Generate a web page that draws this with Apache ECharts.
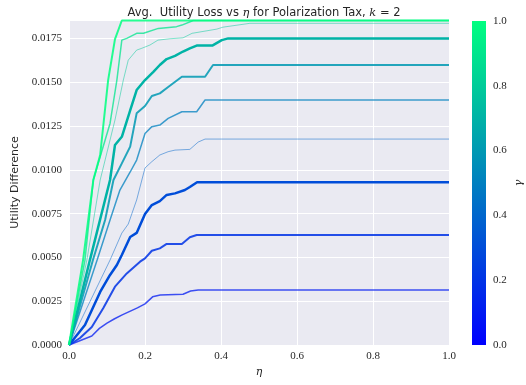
<!DOCTYPE html>
<html><head><meta charset="utf-8">
<script src="https://cdn.jsdelivr.net/npm/echarts@6/dist/echarts.min.js"></script>
<style>html,body{margin:0;padding:0;background:#fff}#c{width:526px;height:385px}</style>
</head><body><div id="c"></div>
<script>
// gamma values of each curve (colour scale)
const gammas = [0.1, 0.2, 0.3, 0.4, 0.5, 0.6, 0.7, 0.8, 0.9, 1.0];
const lineWidths = [1.5, 2, 2.5, 1, 1.5, 2, 2.5, 1, 1.5, 2];
const lineAlphas = [0.75, 0.85, 1, 0.5, 0.75, 0.85, 1, 0.5, 0.75, 0.85];
// eta values and utility differences for each curve
const eta1 = [0, 0.06, 0.08, 0.10, 0.12, 0.14, 0.16, 0.18, 0.20, 0.22, 0.24, 0.30, 0.32, 0.34, 1.0];
const u1   = [0, 0.00051, 0.00095, 0.00125, 0.00150, 0.00172, 0.00192, 0.00212, 0.00235, 0.00275, 0.00285, 0.00290, 0.00308, 0.00314, 0.00314];
const eta2 = [0, 0.029, 0.06, 0.09, 0.121, 0.152, 0.187, 0.2, 0.218, 0.239, 0.257, 0.297, 0.318, 0.336, 1.0];
const u2   = [0, 0.0004, 0.00103, 0.0021, 0.00333, 0.00409, 0.00476, 0.00495, 0.00538, 0.00552, 0.00577, 0.00577, 0.00615, 0.00628, 0.00628];
const eta3 = [0, 0.042, 0.082, 0.108, 0.126, 0.139, 0.161, 0.178, 0.2, 0.218, 0.239, 0.257, 0.279, 0.305, 0.318, 0.337, 1.0];
const u3   = [0, 0.00114, 0.00303, 0.004, 0.00457, 0.00514, 0.00617, 0.0064, 0.00748, 0.00799, 0.00822, 0.00857, 0.00866, 0.00885, 0.00902, 0.00929, 0.00929];
const eta4 = [0, 0.108, 0.139, 0.156, 0.178, 0.2, 0.218, 0.239, 0.261, 0.279, 0.318, 0.34, 0.358, 1.0];
const u4   = [0, 0.00485, 0.00639, 0.00691, 0.00828, 0.01011, 0.01047, 0.01085, 0.01104, 0.01113, 0.01117, 0.01159, 0.01176, 0.01176];
const eta5 = [0, 0.074, 0.108, 0.134, 0.161, 0.178, 0.2, 0.218, 0.239, 0.261, 0.297, 0.336, 0.358, 1.0];
const u5   = [0, 0.00485, 0.00714, 0.00885, 0.00988, 0.01056, 0.01208, 0.01247, 0.01256, 0.01294, 0.01332, 0.01332, 0.01399, 0.01399];
const eta6 = [0, 0.063, 0.095, 0.117, 0.139, 0.161, 0.178, 0.2, 0.218, 0.239, 0.261, 0.297, 0.358, 0.379, 1.0];
const u6   = [0, 0.00485, 0.00714, 0.00942, 0.01037, 0.01133, 0.01323, 0.01365, 0.01422, 0.01437, 0.01473, 0.01532, 0.01532, 0.01599, 0.01599];
const eta7 = [0, 0.055, 0.108, 0.121, 0.139, 0.161, 0.178, 0.2, 0.222, 0.239, 0.257, 0.279, 0.3, 0.318, 0.336, 0.377, 0.402, 0.419, 1.0];
const u7   = [0, 0.00485, 0.00942, 0.01142, 0.01189, 0.0134, 0.01456, 0.01513, 0.0156, 0.01599, 0.01633, 0.01651, 0.01676, 0.01694, 0.0171, 0.0171, 0.01741, 0.01751, 0.01751];
const eta8 = [0, 0.047, 0.082, 0.095, 0.121, 0.143, 0.156, 0.178, 0.191, 0.213, 0.234, 0.266, 0.3, 0.324, 0.389, 0.405, 0.476, 1.0];
const u8   = [0, 0.00485, 0.00942, 0.01056, 0.01285, 0.01513, 0.01627, 0.01684, 0.01694, 0.01713, 0.01741, 0.01749, 0.01754, 0.0178, 0.01804, 0.01815, 0.01837, 0.01837];
const eta9 = [0, 0.042, 0.064, 0.082, 0.108, 0.126, 0.139, 0.152, 0.178, 0.196, 0.235, 0.283, 0.297, 0.327, 1.0];
const u9   = [0, 0.00485, 0.00942, 0.01075, 0.01265, 0.01513, 0.01741, 0.01751, 0.0178, 0.0178, 0.01808, 0.01818, 0.01827, 0.01853, 0.01853];
const eta10 = [0, 0.037, 0.064, 0.082, 0.103, 0.121, 0.139, 1.0];
const u10   = [0, 0.00485, 0.00942, 0.01085, 0.01513, 0.01747, 0.01853, 0.01853];

const etas = [eta1, eta2, eta3, eta4, eta5, eta6, eta7, eta8, eta9, eta10];
const us = [u1, u2, u3, u4, u5, u6, u7, u8, u9, u10];
const yTicks = ['0.0000','0.0025','0.0050','0.0075','0.0100','0.0125','0.0150','0.0175'];
const xTicks = ['0.0','0.2','0.4','0.6','0.8','1.0'];
const cbTicks = ['0.0','0.2','0.4','0.6','0.8','1.0'];

function winter(g) {
  return 'rgb(0,' + Math.round(255 * g) + ',' + Math.round(255 * (1 - 0.5 * g)) + ')';
}

const series = gammas.map((g, i) => ({
  type: 'line',
  xAxisIndex: 0, yAxisIndex: 0,
  data: etas[i].map((x, j) => [x, us[i][j]]),
  showSymbol: false, symbol: 'none', clip: true,
  lineStyle: { color: winter(g), width: lineWidths[i], opacity: lineAlphas[i] },
  z: 3
}));
series.push({
  type: 'bar', xAxisIndex: 1, yAxisIndex: 1,
  data: [1], barWidth: '100%',
  itemStyle: { color: new echarts.graphic.LinearGradient(0, 1, 0, 0, [
    { offset: 0, color: winter(0) }, { offset: 1, color: winter(1) }]) }
});

const txt = '#262626';
const chart = echarts.init(document.getElementById('c'), null, { renderer: 'canvas' });
chart.setOption({
  animation: false,
  backgroundColor: '#ffffff',
  title: {
    text: 'Avg.  Utility Loss vs {i|η} for Polarization Tax, {i|k} = 2',
    left: 259, textAlign: 'center', top: 2,
    textStyle: { fontFamily: 'DejaVu Sans', fontSize: 11.5, fontWeight: 'normal', color: txt,
      rich: { i: { fontFamily: 'DejaVu Serif', fontStyle: 'italic', fontSize: 11.5, color: txt } } }
  },
  grid: [
    { left: 69, right: 77, top: 20, bottom: 40, show: true, backgroundColor: '#EAEAF2', borderWidth: 0 },
    { left: 472, width: 16, top: 21, height: 324, show: false }
  ],
  xAxis: [
    { type: 'value', gridIndex: 0, min: 0, max: 1, interval: 0.2,
      name: 'η', nameLocation: 'middle', nameGap: 20,
      nameTextStyle: { fontFamily: 'DejaVu Serif', fontStyle: 'italic', fontSize: 11, color: txt },
      axisLine: { show: false }, axisTick: { show: false },
      splitLine: { lineStyle: { color: '#ffffff', width: 1 } },
      axisLabel: { fontFamily: 'Liberation Serif', fontSize: 11, color: txt, margin: 6,
        formatter: v => xTicks[Math.round(v / 0.2)] } },
    { type: 'category', gridIndex: 1, data: ['c'], show: false }
  ],
  yAxis: [
    { type: 'value', gridIndex: 0, min: 0, max: 0.01856, interval: 0.0025,
      name: 'Utility Difference', nameLocation: 'middle', nameGap: 44,
      nameTextStyle: { fontFamily: 'DejaVu Sans', fontSize: 11, color: txt },
      axisLine: { show: false }, axisTick: { show: false },
      splitLine: { lineStyle: { color: '#ffffff', width: 1 } },
      axisLabel: { fontFamily: 'Liberation Serif', fontSize: 11, color: txt, margin: 7,
        showMaxLabel: false,
        formatter: v => yTicks[Math.round(v / 0.0025)] || '' } },
    { type: 'value', gridIndex: 1, min: 0, max: 1, interval: 0.2, position: 'right',
      name: 'γ', nameLocation: 'middle', nameGap: 28, nameRotate: 90,
      nameTextStyle: { fontFamily: 'DejaVu Serif', fontStyle: 'italic', fontSize: 11, color: txt },
      axisLine: { show: false }, axisTick: { show: false }, splitLine: { show: false },
      axisLabel: { fontFamily: 'Liberation Serif', fontSize: 11, color: txt, margin: 7,
        formatter: v => cbTicks[Math.round(v / 0.2)] } }
  ],
  series: series
});
</script></body></html>
